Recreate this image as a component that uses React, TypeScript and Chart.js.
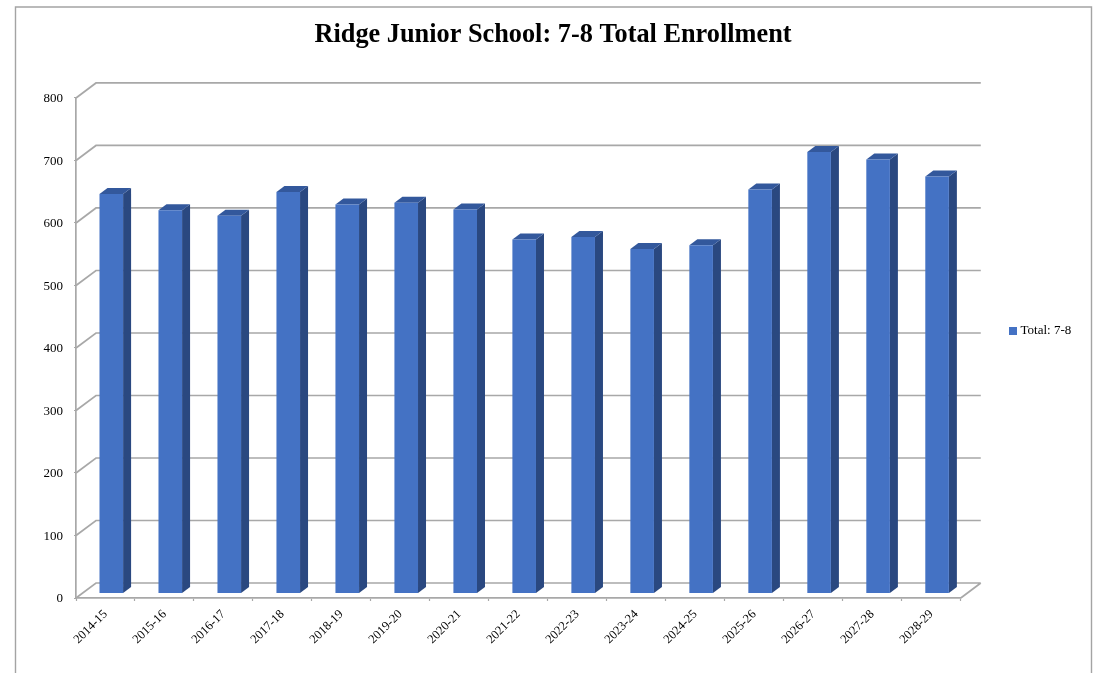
import React, { useEffect, useRef } from "react";
import { Chart, registerables } from "chart.js";

Chart.register(...registerables);

const TITLE = "Ridge Junior School: 7-8 Total Enrollment";
const SERIES_LABEL = "Total: 7-8";
const categories = ["2014-15", "2015-16", "2016-17", "2017-18", "2018-19", "2019-20", "2020-21", "2021-22", "2022-23", "2023-24", "2024-25", "2025-26", "2026-27", "2027-28", "2028-29"];
const totals = [639, 613, 604, 642, 622, 625, 614, 566, 570, 551, 557, 646, 706, 694, 667];
const tickValues = [0, 100, 200, 300, 400, 500, 600, 700, 800];

const FONT = "'Liberation Serif', serif";
const GRID = "#A8A8A8";
const FRONT = "#4472C4";
const SIDE = "#2A4880";
const TOP = "#33589C";

// depth of the back wall and of the bars, in pixels
const WALL = { dx: 20, dy: -15 };
const BAR_SHIFT = { dx: 5.8, dy: -4.6 };
const BAR_DEPTH = { dx: 8, dy: -6 };

const poly = (ctx: CanvasRenderingContext2D, pts: number[][], fill: string) => {
  ctx.beginPath();
  pts.forEach(([x, y], i) => (i ? ctx.lineTo(x, y) : ctx.moveTo(x, y)));
  ctx.closePath();
  ctx.fillStyle = fill;
  ctx.fill();
};

const frame3d = {
  id: "frame3d",
  afterLayout(chart: any) {
    // Place the title and legend the way the reference's frame has them.
    const { titleBlock, legend } = chart;
    titleBlock.left = 15;
    titleBlock.right = 1091;
    const w = legend.width;
    const h = legend.height;
    legend.left = 1000;
    legend.right = 1000 + w;
    legend.top = 331 - h / 2;
    legend.bottom = 331 + h / 2;
  },
  beforeDraw(chart: any) {
    const { ctx } = chart;
    ctx.save();
    ctx.fillStyle = "#FFFFFF";
    ctx.fillRect(0, 0, chart.width, chart.height);
    ctx.strokeStyle = "#A4A4A4";
    ctx.lineWidth = 1.4;
    ctx.beginPath();
    ctx.moveTo(15.5, 680);
    ctx.lineTo(15.5, 7);
    ctx.lineTo(1091.5, 7);
    ctx.lineTo(1091.5, 680);
    ctx.stroke();
    ctx.restore();
  },
  beforeDatasetsDraw(chart: any) {
    const { ctx, chartArea, scales } = chart;
    const { left, right } = chartArea;
    const y = scales.y;
    ctx.save();
    ctx.strokeStyle = GRID;
    ctx.lineWidth = 1.7;
    ctx.beginPath();
    for (const v of tickValues) {
      const py = y.getPixelForValue(v);
      ctx.moveTo(left, py);
      ctx.lineTo(left + WALL.dx, py + WALL.dy);
      ctx.lineTo(right + WALL.dx, py + WALL.dy);
    }
    const base = y.getPixelForValue(0);
    ctx.moveTo(right, base);
    ctx.lineTo(right + WALL.dx, base + WALL.dy);
    ctx.stroke();
    ctx.restore();
  },
  beforeDatasetDraw(chart: any, args: any) {
    const { ctx } = chart;
    ctx.save();
    ctx.translate(BAR_SHIFT.dx, BAR_SHIFT.dy);
    for (const el of chart.getDatasetMeta(args.index).data) {
      const { x, y, base, width } = el.getProps(["x", "y", "base", "width"], true);
      const l = x - width / 2;
      const r = x + width / 2;
      const { dx, dy } = BAR_DEPTH;
      poly(ctx, [[r, y], [r + dx, y + dy], [r + dx, base + dy], [r, base]], SIDE);
      poly(ctx, [[l, y], [r, y], [r + dx, y + dy], [l + dx, y + dy]], TOP);
    }
  },
  afterDatasetDraw(chart: any) {
    chart.ctx.restore();
  },
};

export default function App() {
  const ref = useRef<HTMLCanvasElement>(null);
  useEffect(() => {
    const chart = new Chart(ref.current!, {
      type: "bar",
      data: {
        labels: categories,
        datasets: [{
          label: SERIES_LABEL,
          data: totals,
          backgroundColor: FRONT,
          borderWidth: 0,
          barPercentage: 0.4,
          categoryPercentage: 1,
          clip: false as any,
        }],
      },
      options: {
        responsive: false,
        animation: false,
        layout: { padding: { left: 0, right: 51, top: 0, bottom: 0 } },
        plugins: {
          title: {
            display: true,
            text: TITLE,
            color: "#000000",
            font: { family: FONT, size: 26.3, weight: "bold", lineHeight: 1.2 },
            padding: { top: 19, bottom: 47.4 },
          },
          legend: {
            display: true,
            position: "right",
            labels: {
              boxWidth: 2,
              boxHeight: 2,
              color: "#000000",
              padding: 12,
              font: { family: FONT, size: 13 },
              // a thick outline round a small box keeps the label close to its 8px swatch
              generateLabels: (c: any) =>
                Chart.defaults.plugins.legend.labels.generateLabels(c).map((item: any) => ({
                  ...item,
                  lineWidth: 6,
                  strokeStyle: FRONT,
                })),
            },
          },
          tooltip: { enabled: false },
        },
        scales: {
          x: {
            offset: true,
            afterFit: (s: any) => { s.height = 75; },
            grid: { drawOnChartArea: false, tickLength: 3, tickWidth: 1.2, tickColor: GRID, offset: true },
            border: { color: GRID, width: 1.7 },
            ticks: { color: "#000000", font: { family: FONT, size: 12.5 }, minRotation: 45, maxRotation: 45, autoSkip: false, padding: 6 },
          },
          y: {
            min: 0,
            max: 800,
            afterFit: (s: any) => { s.width = 76; },
            grid: { drawOnChartArea: false, tickLength: 2, tickWidth: 1.2, tickColor: GRID },
            border: { color: GRID, width: 1.7 },
            ticks: { stepSize: 100, color: "#000000", font: { family: FONT, size: 13 }, padding: 11, labelOffset: 1 },
          },
        },
      },
      plugins: [frame3d],
    } as any);
    return () => chart.destroy();
  }, []);
  return (
    <div style={{ position: "fixed", left: 0, top: 0, width: 1093, height: 673 }}>
      <canvas ref={ref} width={1093} height={673} style={{ display: "block", filter: "blur(0.35px)" }} />
    </div>
  );
}
